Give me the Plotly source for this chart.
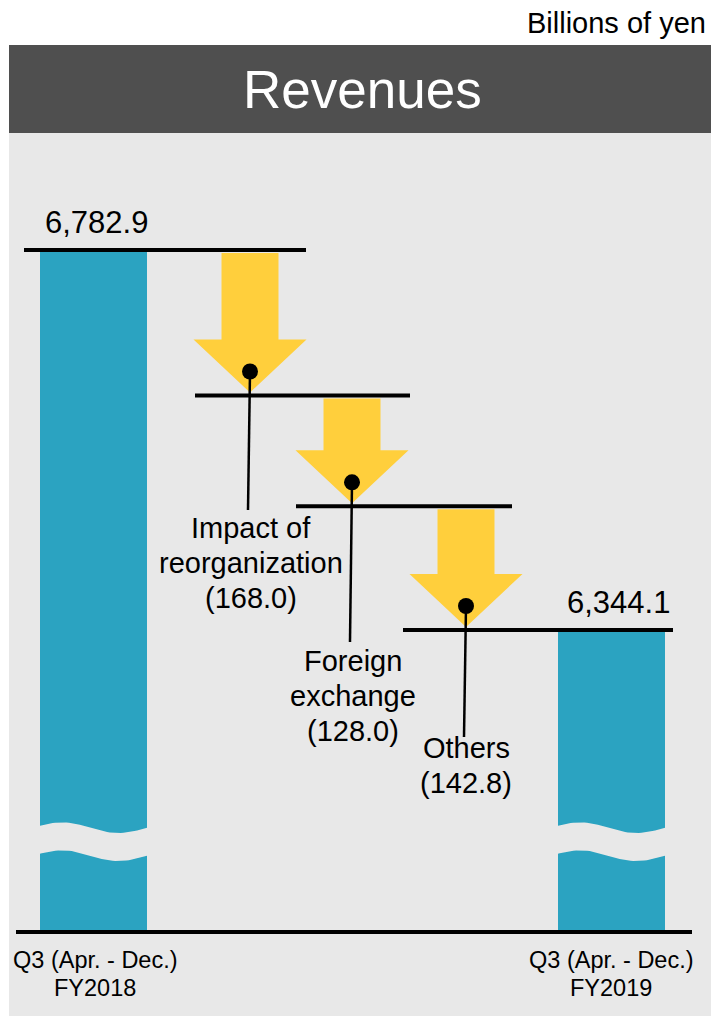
import math
import plotly.graph_objects as go

# ---------------- data ----------------
period = "Q3 (Apr. - Dec.)"
years = ["FY2018", "FY2019"]
totals = [6782.9, 6344.1]
factors = [["Impact of", "reorganization"], ["Foreign", "exchange"], ["Others"]]
changes = [-168.0, -128.0, -142.8]
unit_label = "Billions of yen"
title_text = "Revenues"

# ---------------- layout constants (page pixels) ----------------
W, H = 711, 1016
TOP_PX = 250                  # page row of the first total
K = 0.866                     # pixels per billion yen
BASE_PX = 932                 # broken-axis baseline row
FONT = "Liberation Sans, Arial, sans-serif"
BLUE = "#2BA3C1"
YELLOW = "#FFCF3C"
PANEL = "#E8E8E8"


def val(p):
    """pixel row -> value on the y axis"""
    return totals[0] - (p - TOP_PX) / K


def px(v):
    return TOP_PX + (totals[0] - v) * K


def pxp(x):
    return x / W


def pyp(y):
    return 1 - y / H


levels = [totals[0]]
for c in changes:
    levels.append(levels[-1] + c)

base = val(BASE_PX)
bar_x = [93.5, 611.5]
bar_w = 107
arrow_x = [250, 352, 466]
level_spans = [(24, 306), (195, 410), (296, 512), (403, 673)]
label_x = [251, 353, 466]
label_first_row = [528, 661, 748]
label_end = [510, 642, 737]
LINE = 35

fig = go.Figure()

# bars
fig.add_trace(go.Bar(x=bar_x, y=[t - base for t in totals], base=base,
                     width=bar_w, marker_color=BLUE, marker_line_width=0,
                     hoverinfo="skip"))

# wave breaks
for bx in bar_x:
    n = 40
    xs = [bx - bar_w / 2 - 1 + (bar_w + 2) * i / n for i in range(n + 1)]
    top = [827 - 5 * math.cos(2 * math.pi * (i / n - 0.22)) + 1.5 * (i / n) for i in range(n + 1)]
    bot = [t + 28 for t in top]
    px_x = xs + xs[::-1] + [xs[0]]
    px_y = top + bot[::-1] + [top[0]]
    fig.add_trace(go.Scatter(x=px_x, y=[val(p) for p in px_y], mode="lines",
                             fill="toself", fillcolor=PANEL, line=dict(width=0),
                             hoverinfo="skip"))

# arrows
for i, cx in enumerate(arrow_x):
    top_p = px(levels[i]) + 3
    tip_p = px(levels[i + 1]) - 3
    hb_p = tip_p - 53
    pts = [(cx - 28.5, top_p), (cx + 28.5, top_p), (cx + 28.5, hb_p), (cx + 56.5, hb_p),
           (cx, tip_p), (cx - 56.5, hb_p), (cx - 28.5, hb_p), (cx - 28.5, top_p)]
    fig.add_trace(go.Scatter(x=[p[0] for p in pts], y=[val(p[1]) for p in pts],
                             mode="lines", fill="toself", fillcolor=YELLOW,
                             line=dict(width=0), hoverinfo="skip"))

# leader lines + dots
for i, cx in enumerate(arrow_x):
    dot_p = px(levels[i + 1]) - 24
    fig.add_trace(go.Scatter(x=[cx, cx - 2], y=[val(dot_p), val(label_end[i])], mode="lines",
                             line=dict(color="black", width=2.5), hoverinfo="skip"))
    fig.add_trace(go.Scatter(x=[cx], y=[val(dot_p)], mode="markers",
                             marker=dict(color="black", size=16), hoverinfo="skip"))

shapes = [
    dict(type="rect", xref="paper", yref="paper", x0=pxp(9), x1=1, y0=0, y1=pyp(133),
         fillcolor=PANEL, line_width=0, layer="below"),
    dict(type="rect", xref="paper", yref="paper", x0=pxp(9), x1=1, y0=pyp(133), y1=pyp(45),
         fillcolor="#4F4F4F", line_width=0, layer="below"),
    dict(type="line", xref="x", yref="y", x0=16, x1=692, y0=base, y1=base,
         line=dict(color="black", width=4)),
]
for (x0, x1), lv in zip(level_spans, levels):
    shapes.append(dict(type="line", xref="x", yref="y", x0=x0, x1=x1, y0=lv, y1=lv,
                       line=dict(color="black", width=4)))

ann = [
    dict(x=pxp(708), y=pyp(23), xref="paper", yref="paper", text=unit_label,
         showarrow=False, xanchor="right", yanchor="middle", font=dict(size=29, color="black")),
    dict(x=pxp(362), y=pyp(90), xref="paper", yref="paper", text=title_text,
         showarrow=False, xanchor="center", yanchor="middle", font=dict(size=53, color="white")),
]
for t, vx in zip(totals, [96, 618]):
    ann.append(dict(x=vx, y=val(px(t) - 28), text=f"{t:,.1f}", showarrow=False,
                    xanchor="center", yanchor="middle", font=dict(size=31, color="black")))
for bx, yr in zip([95, 611], years):
    for j, line in enumerate([period, yr]):
        ann.append(dict(x=bx, y=val(960 + 28 * j), text=line, showarrow=False,
                        xanchor="center", yanchor="middle", font=dict(size=23.5, color="black")))
for lx, ly, name, ch in zip(label_x, label_first_row, factors, changes):
    lines = name + [f"({abs(ch):.1f})"]
    for j, line in enumerate(lines):
        ann.append(dict(x=lx, y=val(ly + LINE * j), text=line, showarrow=False,
                        xanchor="center", yanchor="middle", font=dict(size=29, color="black")))

fig.update_layout(
    width=W, height=H, margin=dict(l=0, r=0, t=0, b=0),
    paper_bgcolor="white", plot_bgcolor="white",
    showlegend=False, shapes=shapes, annotations=ann,
    font=dict(family=FONT),
    xaxis=dict(range=[0, W], visible=False, fixedrange=True),
    yaxis=dict(range=[val(H), val(0)], visible=False, fixedrange=True),
)

fig.write_html(
    "out.html",
    config={"displayModeBar": False},
    post_script="document.body.style.margin='0';document.body.style.overflow='hidden';",
)
